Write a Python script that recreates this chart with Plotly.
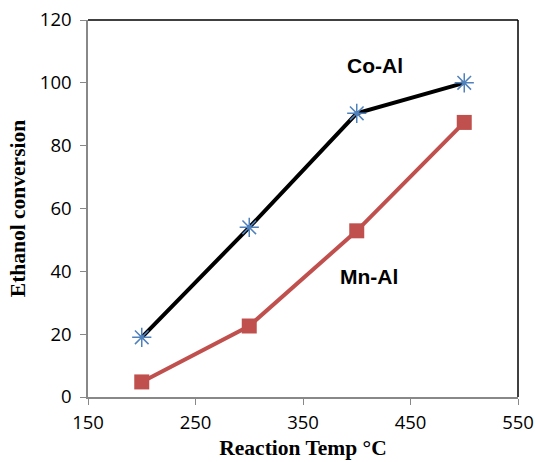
import plotly.graph_objects as go

temps = [200, 300, 400, 500]
co_al = [19.0, 54.0, 90.3, 100.0]
mn_al = [4.8, 22.6, 52.9, 87.4]
x_ticks = [150, 250, 350, 450, 550]
y_ticks = [0, 20, 40, 60, 80, 100, 120]

fig = go.Figure()
fig.add_trace(go.Scatter(
    x=temps, y=mn_al, mode="lines+markers", name="Mn-Al",
    line=dict(color="#C0504D", width=4),
    marker=dict(symbol="square", size=15, color="#C0504D"),
))
fig.add_trace(go.Scatter(
    x=temps, y=co_al, mode="lines+markers", name="Co-Al",
    line=dict(color="black", width=4),
    marker=dict(symbol="asterisk-open", size=16, color="#4F81BD",
                line=dict(color="#4F81BD", width=1.5)),
))

label_font = dict(family="Liberation Sans, Arial", size=21, color="black")
fig.add_annotation(x=416.7, y=105.4, text="<b>Co-Al</b>", showarrow=False, font=label_font)
fig.add_annotation(x=411.4, y=38.4, text="<b>Mn-Al</b>", showarrow=False, font=label_font)

# black frame on the top and right edges
fig.add_shape(type="line", xref="paper", yref="paper", x0=0, x1=1, y0=1, y1=1,
              line=dict(color="black", width=1.5))
fig.add_shape(type="line", xref="paper", yref="paper", x0=1, x1=1, y0=0, y1=1,
              line=dict(color="black", width=1.5))

title_font = dict(family="Liberation Serif, Times New Roman", size=21.5, color="black")
axis_common = dict(
    showgrid=False, zeroline=False, showline=True, linecolor="#888888", linewidth=1.5,
    ticks="outside", ticklen=6, tickcolor="#888888", automargin=False,
    tickfont=dict(family="Open Sans, Liberation Sans", size=18.5, color="black"),
)
fig.update_xaxes(range=[150, 550], tickvals=x_ticks, ticklabelstandoff=2, **axis_common,
                 title=dict(text="<b>Reaction Temp °C</b>", standoff=7, font=title_font))
fig.update_yaxes(range=[0, 120], tickvals=y_ticks, ticklabelstandoff=5, **axis_common,
                 title=dict(text="<b>Ethanol conversion</b>", standoff=8, font=title_font))

fig.update_layout(
    width=536, height=462, showlegend=False,
    margin=dict(l=88, r=18, t=20, b=65),
    plot_bgcolor="white", paper_bgcolor="white",
)
fig.write_html("out.html")
